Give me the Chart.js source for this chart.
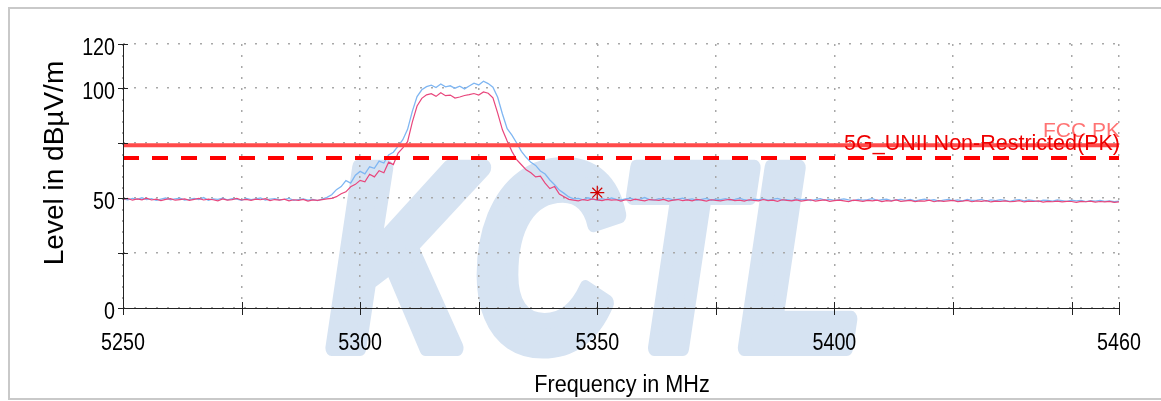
<!DOCTYPE html>
<html><head><meta charset="utf-8">
<script src="https://cdn.jsdelivr.net/npm/chart.js@4.4.0/dist/chart.umd.min.js"></script>
<style>html,body{margin:0;padding:0;background:#fff;overflow:hidden;} canvas{display:block;}</style>
</head><body>
<canvas id="c" width="1161" height="401"></canvas>
<script>
const freqMHz = [
5250,5251,5252,5253,5254,5255,5256,5257,5258,5259,
5260,5261,5262,5263,5264,5265,5266,5267,5268,5269,
5270,5271,5272,5273,5274,5275,5276,5277,5278,5279,
5280,5281,5282,5283,5284,5285,5286,5287,5288,5289,
5290,5291,5292,5293,5294,5295,5296,5297,5298,5299,
5300,5301,5302,5303,5304,5305,5306,5307,5308,5309,
5310,5311,5312,5313,5314,5315,5316,5317,5318,5319,
5320,5321,5322,5323,5324,5325,5326,5327,5328,5329,
5330,5331,5332,5333,5334,5335,5336,5337,5338,5339,
5340,5341,5342,5343,5344,5345,5346,5347,5348,5349,
5350,5351,5352,5353,5354,5355,5356,5357,5358,5359,
5360,5361,5362,5363,5364,5365,5366,5367,5368,5369,
5370,5371,5372,5373,5374,5375,5376,5377,5378,5379,
5380,5381,5382,5383,5384,5385,5386,5387,5388,5389,
5390,5391,5392,5393,5394,5395,5396,5397,5398,5399,
5400,5401,5402,5403,5404,5405,5406,5407,5408,5409,
5410,5411,5412,5413,5414,5415,5416,5417,5418,5419,
5420,5421,5422,5423,5424,5425,5426,5427,5428,5429,
5430,5431,5432,5433,5434,5435,5436,5437,5438,5439,
5440,5441,5442,5443,5444,5445,5446,5447,5448,5449,
5450,5451,5452,5453,5454,5455,5456,5457,5458,5459,
5460];

// upper (light blue) trace, dBµV/m
const traceBlue = [
49.6,49.2,49.8,49.4,50.1,49.3,49.7,48.9,49.5,50.0,
49.2,49.6,49.9,49.1,49.4,49.8,49.3,50.2,49.0,49.6,
49.4,49.9,49.2,49.7,49.5,48.9,49.8,49.3,49.6,50.0,
49.1,49.5,49.7,49.2,49.4,49.8,48.9,49.3,49.6,49.0,
49.4,48.8,49.5,50.3,51.5,53.8,55.2,57.9,56.8,60.4,
62.1,61.0,64.2,63.5,66.8,65.9,69.6,70.8,73.6,76.5,
81.2,89.4,96.1,99.2,100.6,101.3,100.2,101.8,100.5,101.0,
99.9,100.8,99.6,100.9,102.2,101.4,103.1,102.0,100.4,95.8,
88.2,81.5,78.6,75.0,71.2,68.5,66.2,64.8,62.3,60.9,
58.2,56.0,53.6,52.1,50.5,49.6,49.8,49.2,50.1,49.5,
49.0,49.7,49.3,50.0,49.4,49.1,49.6,49.9,49.2,49.5,
50.2,49.3,49.0,49.7,49.4,49.8,49.1,49.5,49.9,49.2,
49.6,48.9,49.4,49.8,49.0,49.5,49.3,49.7,49.1,49.4,
49.9,49.2,48.8,49.5,49.3,49.6,49.0,49.4,49.8,49.1,
49.3,48.9,49.6,49.2,49.5,48.8,49.3,49.7,49.0,49.4,
48.9,49.2,49.6,49.1,48.8,49.4,49.0,49.3,49.7,48.9,
49.2,49.5,48.8,49.1,49.4,48.9,49.3,48.7,49.1,49.5,
48.9,49.2,48.6,49.0,49.4,48.8,49.1,48.7,49.3,48.9,
49.0,49.4,48.6,49.1,48.8,49.2,48.9,48.5,49.0,49.3,
48.7,49.1,48.8,48.4,49.0,48.9,48.6,49.1,48.8,48.5,
49.0,48.7,48.9,48.4,48.8,48.6,48.9,48.5,48.7,48.3,
48.6];

// lower (pink) trace, dBµV/m
const tracePink = [
49.3,49.8,49.0,49.6,49.2,49.9,49.1,49.5,48.8,49.4,
49.7,49.0,49.3,49.6,48.9,49.4,49.8,49.1,49.5,49.2,
48.7,49.6,49.0,49.3,49.8,49.1,49.4,48.9,49.5,49.2,
49.7,48.8,49.3,49.0,49.5,48.7,49.2,48.9,49.4,48.6,
49.1,48.9,49.3,49.6,49.8,50.6,51.9,52.8,55.1,56.2,
58.0,57.4,60.8,59.6,62.4,61.5,66.3,65.2,70.4,72.8,
75.6,84.5,91.8,95.3,96.9,97.4,96.2,97.8,96.5,96.8,
95.4,95.9,96.6,97.0,97.5,96.8,98.2,97.6,95.5,88.6,
81.0,75.9,71.2,67.4,65.1,62.8,61.5,59.6,59.9,56.8,
54.3,55.2,51.8,50.6,49.4,49.0,48.7,49.3,48.9,49.6,
49.1,48.8,49.4,49.0,49.2,48.6,49.2,48.8,49.5,49.0,
48.7,49.3,49.1,48.9,49.4,48.6,49.0,49.3,48.8,49.1,
48.7,49.4,49.0,48.6,49.2,48.9,48.7,49.1,49.4,48.8,
49.0,48.6,49.2,48.9,48.7,49.3,48.8,49.0,48.5,49.2,
48.9,48.7,49.1,48.6,48.9,49.2,48.6,48.9,49.1,48.5,
48.8,49.0,48.7,48.4,49.0,48.8,48.5,48.9,48.7,49.0,
48.4,48.8,48.6,49.1,48.5,48.7,48.9,48.4,48.7,48.6,
49.0,48.3,48.8,48.5,48.7,48.9,48.4,48.6,48.9,48.3,
48.7,48.5,48.8,48.2,48.6,48.4,48.7,48.3,48.5,48.8,
48.2,48.6,48.4,48.7,48.1,48.5,48.3,48.6,48.2,48.5,
48.4,48.0,48.5,48.3,48.6,48.1,48.4,48.2,48.5,48.0,
48.2];

const limitFccPk = 74;
const limitUnii = 68.2;
const limitLabels = ['FCC PK', '5G_UNII Non-Restricted(PK)'];
const markerFreq = [5350];
const markerLevel = [52.4];

const xTickValues = [5250,5275,5300,5325,5350,5375,5400,5425,5450,5460];
const xTickLabels = ['5250','','5300','','5350','','5400','','','5460'];
const yTickValues = [0,25,50,75,100,120];
const yTickLabels = ['0','','50','','100','120'];
const xTitle = 'Frequency in MHz';
const yTitle = 'Level in dBµV/m';
const watermark = 'KCTL';

const FONT = '"Liberation Sans", Arial, Helvetica, sans-serif';

function drawText(ctx, text, x, y, size, color, align, sx, weight) {
  ctx.save();
  ctx.font = (weight || '') + ' ' + size + 'px ' + FONT;
  ctx.fillStyle = color;
  ctx.textBaseline = 'alphabetic';
  ctx.textAlign = 'left';
  const w = ctx.measureText(text).width * sx;
  const x0 = align === 'center' ? x - w / 2 : (align === 'right' ? x - w : x);
  ctx.translate(x0, y);
  ctx.scale(sx, 1);
  ctx.fillText(text, 0, 0);
  ctx.restore();
}

const decor = {
  id: 'decor',
  beforeDraw(chart) {
    const ctx = chart.ctx;
    ctx.save();
    ctx.fillStyle = '#ffffff';
    ctx.fillRect(0, 0, chart.width, chart.height);
    ctx.strokeStyle = '#c9c9c9';
    ctx.lineWidth = 2;
    ctx.strokeRect(9, 8, 1170, 391);
    // watermark
    ctx.font = 'italic bold 262px ' + FONT;
    ctx.fillStyle = '#d6e3f2';
    ctx.strokeStyle = '#d6e3f2';
    ctx.lineWidth = 16;
    ctx.lineJoin = 'round';
    const w = ctx.measureText(watermark).width;
    ctx.translate(328, 348);
    ctx.scale(535 / w, 1);
    ctx.fillText(watermark, 0, 0);
    ctx.strokeText(watermark, 0, 0);
    ctx.restore();
  },
  afterDraw(chart) {
    const ctx = chart.ctx;
    const xs = chart.scales.x, ys = chart.scales.y;
    const area = chart.chartArea;
    ctx.save();
    ctx.strokeStyle = '#222';
    ctx.lineWidth = 1;
    ctx.beginPath();
    ctx.moveTo(area.left + 0.5, area.top); ctx.lineTo(area.left + 0.5, area.bottom);
    ctx.moveTo(area.left, area.bottom + 0.5); ctx.lineTo(area.right, area.bottom + 0.5);
    yTickValues.forEach(v => {
      const y = Math.round(ys.getPixelForValue(v)) + 0.5;
      ctx.moveTo(area.left - 5, y); ctx.lineTo(area.left + 5, y);
    });
    xTickValues.forEach(v => {
      const x = Math.round(xs.getPixelForValue(v)) + 0.5;
      ctx.moveTo(x, area.bottom - 6); ctx.lineTo(x, area.bottom + 7);
    });
    ctx.stroke();
    ctx.restore();
    yTickValues.forEach((v, i) => {
      if (yTickLabels[i]) drawText(ctx, yTickLabels[i], area.left - 8, ys.getPixelForValue(v) + 11, 24, '#000', 'right', 0.82);
    });
    xTickValues.forEach((v, i) => {
      if (xTickLabels[i]) drawText(ctx, xTickLabels[i], xs.getPixelForValue(v), 350, 24, '#000', 'center', 0.82);
    });
    drawText(ctx, xTitle, 622, 392, 23, '#000', 'center', 0.94);
    ctx.save();
    ctx.translate(63, 163);
    ctx.rotate(-Math.PI / 2);
    drawText(ctx, yTitle, 0, 0, 28, '#000', 'center', 1);
    ctx.restore();
    drawText(ctx, limitLabels[0], 1120, 137, 21, 'rgba(255,90,90,0.85)', 'right', 1);
    drawText(ctx, limitLabels[1], 1120, 150, 21.5, '#ee0000', 'right', 1);
  }
};

const toPts = (xsArr, ysArr) => xsArr.map((f, i) => ({x: f, y: ysArr[i]}));

new Chart(document.getElementById('c'), {
  type: 'line',
  data: {
    datasets: [
      {label: 'Marker', data: toPts(markerFreq, markerLevel), showLine: false, pointStyle: 'star',
       pointRadius: 7, pointBorderColor: '#d00000', pointBorderWidth: 1.2, borderColor: '#d00000', order: 0},
      {label: limitLabels[0], data: [{x: 5250, y: limitFccPk}, {x: 5460, y: limitFccPk}],
       borderColor: '#ff4a4a', borderWidth: 4, pointRadius: 0, order: 1},
      {label: limitLabels[1], data: [{x: 5250, y: limitUnii}, {x: 5460, y: limitUnii}],
       borderColor: '#ff0000', borderWidth: 4, borderDash: [16, 13], pointRadius: 0, order: 2},
      {label: 'Trace 2', data: toPts(freqMHz, tracePink), borderColor: '#e8467c', borderWidth: 1.2,
       pointRadius: 0, order: 3},
      {label: 'Trace 1', data: toPts(freqMHz, traceBlue), borderColor: '#7fb6f2', borderWidth: 1.3,
       pointRadius: 0, order: 4}
    ]
  },
  options: {
    responsive: false,
    animation: false,
    events: [],
    layout: {padding: {top: 44, right: 42, left: 0, bottom: 0}},
    plugins: {legend: {display: false}, tooltip: {enabled: false}},
    scales: {
      x: {
        type: 'linear', min: 5250, max: 5460,
        afterBuildTicks: s => { s.ticks = xTickValues.map(v => ({value: v})); },
        afterFit: s => { s.height = 93; },
        ticks: {display: false},
        grid: {color: '#a8a8a8', lineWidth: 1.5, drawTicks: false, tickLength: 0},
        border: {display: false, dash: [2, 9]}
      },
      y: {
        type: 'linear', min: 0, max: 120,
        afterBuildTicks: s => { s.ticks = yTickValues.map(v => ({value: v})); },
        afterFit: s => { s.width = 123; },
        ticks: {display: false},
        grid: {color: '#a8a8a8', lineWidth: 1.5, drawTicks: false, tickLength: 0},
        border: {display: false, dash: [2, 9]}
      }
    }
  },
  plugins: [decor]
});
</script>
</body></html>
